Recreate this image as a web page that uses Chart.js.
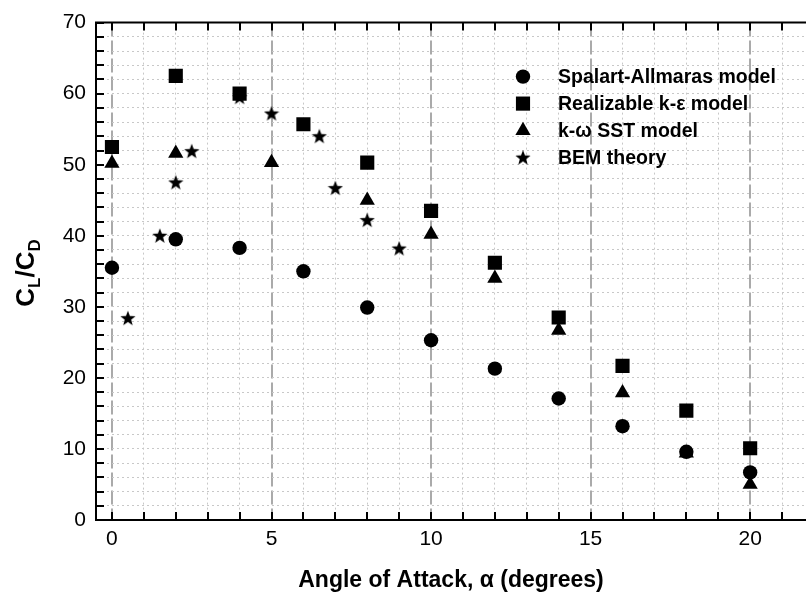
<!DOCTYPE html>
<html>
<head>
<meta charset="utf-8">
<script src="https://cdn.jsdelivr.net/npm/chart.js@4"></script>
<style>
  html, body { margin: 0; padding: 0; background: #fff; }
  #wrap { width: 806px; height: 599px; }
</style>
</head>
<body>
<div id="wrap"><canvas id="chart"></canvas></div>
<script>
// angle of attack (degrees) and CL/CD values
const saX = [0, 2, 4, 6, 8, 10, 12, 14, 16, 18, 20];
const saY = [35.5, 39.5, 38.3, 35, 29.9, 25.3, 21.3, 17.1, 13.2, 9.6, 6.7];

const rkeX = [0, 2, 4, 6, 8, 10, 12, 14, 16, 18, 20];
const rkeY = [52.5, 62.5, 60, 55.7, 50.3, 43.5, 36.2, 28.5, 21.7, 15.4, 10.1];

const sstX = [0, 2, 5, 8, 10, 12, 14, 16, 18, 20];
const sstY = [50.2, 51.6, 50.3, 45, 40.2, 34, 26.7, 17.9, 9.4, 5];

const bemX = [0.5, 1.5, 2, 2.5, 4, 5, 6.5, 7, 8, 9];
const bemY = [28.4, 40, 47.5, 51.9, 59.5, 57.2, 54, 46.7, 42.2, 38.2];

const seriesNames = ["Spalart-Allmaras model", "Realizable k-\u03b5 model", "k-\u03c9 SST model", "BEM theory"];
const xTitle = "Angle of Attack, \u03b1 (degrees)";

const FONT = "'Liberation Sans', Arial, sans-serif";

function pairs(xs, ys) {
  return xs.map((x, i) => ({ x: x, y: ys[i] }));
}

// filled five point star, used as a point image
function makeStar(size) {
  const c = document.createElement("canvas");
  c.width = size;
  c.height = size;
  const g = c.getContext("2d");
  const cx = size / 2, cy = size / 2 + 0.5;
  g.beginPath();
  for (let i = 0; i < 10; i++) {
    const r = i % 2 ? size * 0.21 : size * 0.5;
    const a = -Math.PI / 2 + i * Math.PI / 5;
    const px = cx + r * Math.cos(a);
    const py = cy + r * Math.sin(a);
    if (i === 0) g.moveTo(px, py); else g.lineTo(px, py);
  }
  g.closePath();
  g.fillStyle = "#000";
  g.fill();
  return c;
}
const star = makeStar(16);

// ticks pointing inward, the top frame line, legend and y title
const decorations = {
  id: "decorations",
  beforeDatasetsDraw(chart) {
    const { ctx, chartArea: a, scales } = chart;
    ctx.save();
    ctx.strokeStyle = "#000";
    ctx.lineWidth = 2;
    ctx.beginPath();
    scales.x.ticks.forEach(t => {
      const px = Math.round(scales.x.getPixelForValue(t.value));
      ctx.moveTo(px, a.bottom);
      ctx.lineTo(px, a.bottom - 8);
      ctx.moveTo(px, a.top);
      ctx.lineTo(px, a.top + 8);
    });
    scales.y.ticks.forEach(t => {
      const py = Math.round(scales.y.getPixelForValue(t.value));
      ctx.moveTo(a.left, py);
      ctx.lineTo(a.left + 8, py);
    });
    ctx.moveTo(a.left - 1, a.top);
    ctx.lineTo(a.right, a.top);
    ctx.stroke();
    ctx.restore();
  },
  afterDraw(chart) {
    const { ctx, chartArea: a } = chart;
    ctx.save();
    // legend
    ctx.font = "bold 19.5px " + FONT;
    ctx.textBaseline = "middle";
    ctx.fillStyle = "#000";
    chart.data.datasets.forEach((ds, i) => {
      const y = a.top + 54 + i * 27;
      const x = a.left + 427;
      Chart.helpers.drawPoint(ctx, {
        pointStyle: ds.pointStyle,
        radius: ds.pointRadius,
        borderWidth: 0,
        rotation: 0
      }, x, y);
      ctx.fillText(ds.label, a.left + 462, y + 1);
    });
    // y axis title with subscripts
    ctx.translate(34, 273);
    ctx.rotate(-Math.PI / 2);
    ctx.textBaseline = "alphabetic";
    ctx.textAlign = "left";
    const big = "bold 26px " + FONT;
    const small = "bold 17px " + FONT;
    const parts = [["C", big, 0], ["L", small, 6], ["/C", big, 0], ["D", small, 6]];
    let total = 0;
    parts.forEach(p => { ctx.font = p[1]; total += ctx.measureText(p[0]).width; });
    let cx = -total / 2;
    parts.forEach(p => {
      ctx.font = p[1];
      ctx.fillText(p[0], cx, p[2]);
      cx += ctx.measureText(p[0]).width;
    });
    ctx.restore();
  }
};

new Chart(document.getElementById("chart"), {
  type: "scatter",
  data: {
    datasets: [
      { label: seriesNames[0], data: pairs(saX, saY), pointStyle: "circle", pointRadius: 7.2 },
      { label: seriesNames[1], data: pairs(rkeX, rkeY), pointStyle: "rect", pointRadius: 10 },
      { label: seriesNames[2], data: pairs(sstX, sstY), pointStyle: "triangle", pointRadius: 8.8 },
      { label: seriesNames[3], data: pairs(bemX, bemY), pointStyle: star, pointRadius: 8 }
    ].map(ds => Object.assign(ds, {
      backgroundColor: "#000",
      borderColor: "#000",
      borderWidth: 0,
      pointHoverRadius: ds.pointRadius
    }))
  },
  options: {
    responsive: true,
    maintainAspectRatio: false,
    animation: false,
    layout: { autoPadding: false, padding: { top: 17, right: 0, left: 0, bottom: 0 } },
    plugins: {
      legend: { display: false },
      tooltip: { enabled: false }
    },
    scales: {
      x: {
        type: "linear",
        min: -0.5,
        max: 21.75,
        afterFit: s => { s.height = 79; },
        ticks: {
          stepSize: 1,
          includeBounds: false,
          autoSkip: false,
          maxRotation: 0,
          padding: 7,
          color: "#000",
          font: { family: FONT, size: 21 },
          callback: v => (v % 5 === 0 ? v : "")
        },
        grid: {
          drawTicks: false,
          color: c => (c.tick && c.tick.value % 5 === 0 ? "#aaaaaa" : "#c8c8c8"),
          lineWidth: c => (c.tick && c.tick.value % 5 === 0 ? 2 : 1)
        },
        border: {
          color: "#000",
          width: 2,
          dash: c => (c.tick ? (c.tick.value % 5 === 0 ? [14, 4] : [2, 3]) : [])
        },
        title: {
          display: true,
          text: xTitle,
          color: "#000",
          font: { family: FONT, size: 23, weight: "bold" },
          padding: { top: 0, bottom: 5 }
        }
      },
      y: {
        min: 0,
        max: 70,
        afterFit: s => { s.width = 96; },
        ticks: {
          stepSize: 2,
          autoSkip: false,
          padding: 10,
          color: "#000",
          font: { family: FONT, size: 21 },
          callback: v => (v % 10 === 0 ? v : "")
        },
        grid: {
          drawTicks: false,
          color: "#c8c8c8",
          lineWidth: 1
        },
        border: {
          color: "#000",
          width: 2,
          dash: c => (c.tick ? [2, 3] : [])
        }
      }
    }
  },
  plugins: [decorations]
});
</script>
</body>
</html>
